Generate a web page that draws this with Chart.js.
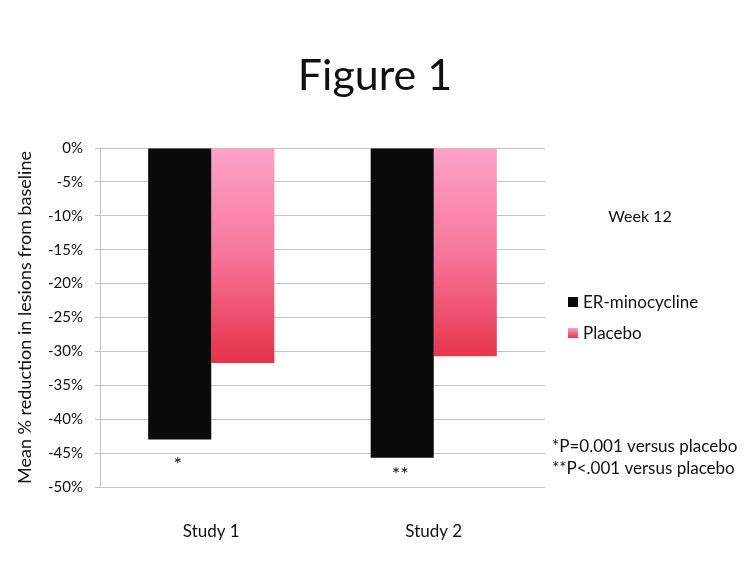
<!DOCTYPE html>
<html>
<head>
<meta charset="utf-8">
<script src="https://cdn.jsdelivr.net/npm/chart.js@4/dist/chart.umd.min.js"></script>
<style>
	html, body { margin: 0; padding: 0; background: #fff; }
	#wrap { width: 750px; height: 563px; }
</style>
</head>
<body>
<div id="wrap"><canvas id="chart-one"></canvas></div>
<script>
const studies = ['Study 1', 'Study 2'];
const erMinocycline = [-43.0, -45.7];
const placebo = [-31.7, -30.7];
const marks = ['*', '**'];
const footnotes = ['*P=0.001 versus placebo', '**P<.001 versus placebo'];
const weekLabel = 'Week 12';
const figureTitle = 'Figure 1';

const fontFamily = 'Lato, "Open Sans", sans-serif';

function pinkGradient(context) {
	const chart = context.chart;
	const yScale = chart.scales.y;
	if (!chart.chartArea || !yScale) {
		return '#f26a8d';
	}
	const top = yScale.getPixelForValue(0);
	const bottom = yScale.getPixelForValue(-31.5);
	const g = chart.ctx.createLinearGradient(0, top, 0, bottom);
	g.addColorStop(0, '#fca3c6');
	g.addColorStop(0.5, '#f7769b');
	g.addColorStop(1, '#e6334a');
	return g;
}

// title, asterisks under bars, legend and footnotes on the right
const extras = {
	id: 'extras',
	afterDatasetsDraw(chart) {
		const ctx = chart.ctx;
		ctx.save();
		ctx.fillStyle = '#111';
		ctx.font = '20px ' + fontFamily;
		ctx.textAlign = 'center';
		ctx.textBaseline = 'top';
		const meta = chart.getDatasetMeta(0);
		meta.data.forEach((bar, i) => {
			ctx.fillText(marks[i], bar.x - 2, bar.y + 15 - i * 8);
		});
		ctx.restore();
	},
	afterDraw(chart) {
		const ctx = chart.ctx;
		ctx.save();
		ctx.fillStyle = '#111';
		ctx.textBaseline = 'middle';
		ctx.textAlign = 'center';
		ctx.font = '43px ' + fontFamily;
		ctx.fillText(figureTitle, 375, 76);

		ctx.font = '16px ' + fontFamily;
		ctx.fillText(weekLabel, 640, 217);

		ctx.textAlign = 'left';
		const legendY = [302, 333];
		chart.data.datasets.forEach((ds, i) => {
			const y = legendY[i];
			if (i === 0) {
				ctx.fillStyle = ds.backgroundColor;
			} else {
				const g = ctx.createLinearGradient(0, y - 5, 0, y + 5);
				g.addColorStop(0, '#fca3c6');
				g.addColorStop(1, '#e6334a');
				ctx.fillStyle = g;
			}
			ctx.fillRect(568, y - 5, 10, 10);
			ctx.fillStyle = '#111';
			ctx.font = '17px ' + fontFamily;
			ctx.fillText(ds.label, 583, y + 1);
		});

		ctx.font = '17px ' + fontFamily;
		ctx.fillText(footnotes[0], 552, 447);
		ctx.fillText(footnotes[1], 552, 469);
		ctx.restore();
	}
};

const chartFigure = new Chart(document.querySelector('#chart-one').getContext('2d'), {
	type: 'bar',
	data: {
		labels: studies,
		datasets: [
			{
				label: 'ER-minocycline',
				data: erMinocycline,
				backgroundColor: '#0a0a0a',
				categoryPercentage: 0.567,
				barPercentage: 1.0
			},
			{
				label: 'Placebo',
				data: placebo,
				backgroundColor: pinkGradient,
				categoryPercentage: 0.567,
				barPercentage: 1.0
			}
		]
	},
	options: {
		responsive: true,
		maintainAspectRatio: false,
		animation: false,
		layout: {
			padding: { top: 148, right: 205, bottom: 0, left: 0 }
		},
		scales: {
			y: {
				min: -50,
				max: 0,
				afterFit: s => { s.width = 100; },
				ticks: {
					stepSize: 5,
					color: '#111',
					padding: 12,
					font: { family: fontFamily, size: 15 },
					callback: v => v + '%'
				},
				grid: {
					color: '#c4c4c4',
					tickLength: 5
				},
				border: { color: '#c4c4c4' },
				title: {
					display: true,
					text: 'Mean % reduction in lesions from baseline',
					color: '#111',
					font: { family: fontFamily, size: 18 },
					padding: { top: 14, bottom: 0 }
				}
			},
			x: {
				afterFit: s => { s.height = 76; },
				ticks: {
					color: '#111',
					padding: 26,
					font: { family: fontFamily, size: 17 }
				},
				grid: { display: false },
				border: { display: false }
			}
		},
		plugins: {
			legend: { display: false },
			tooltip: { enabled: false },
			title: { display: false }
		}
	},
	plugins: [extras]
});
</script>
</body>
</html>
